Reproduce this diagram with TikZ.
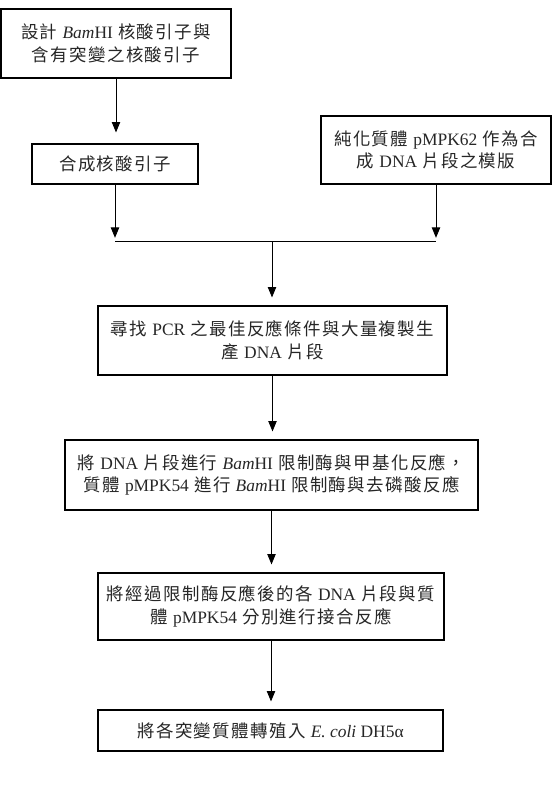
\documentclass[tikz,border=0pt]{standalone}
\usepackage{fontspec}
\setmainfont{Noto Sans CJK TC}
\newfontfamily\lat{Liberation Serif}
\usetikzlibrary{arrows.meta}
% a little room between the ideographs
\newcount\cjkchar
\cjkchar="4E00
\loop
  \XeTeXcharclass\cjkchar=1
  \advance\cjkchar by 1
\ifnum\cjkchar<"A000 \repeat
\XeTeXcharclass"FF0C=1
\XeTeXinterchartokenstate=1
\XeTeXinterchartoks 1 1 = {\hskip 1.0pt\relax}
\newcommand\gap{\hskip 0.3em\relax}

\begin{document}
\begin{tikzpicture}[x=0.025cm, y=-0.025cm,
  >={Triangle[length=2.6mm, width=2.1mm]},
  passo/.style={draw, line width=0.8pt, align=center, inner sep=0pt,
    font=\fontsize{12.4}{16}\selectfont, text=black!85},
  seta/.style={->, line width=0.6pt, shorten >=0.2cm}]
  \useasboundingbox (0,0) rectangle (559,795);

  % primers e molde
  \node[passo, minimum width=5.75cm, minimum height=1.725cm] (b1) at (116,43.5)
    {設計\gap{\lat\textit{Bam}HI}\gap 核酸引子與\\含有突變之核酸引子};
  \node[passo, minimum width=4.15cm, minimum height=1.0cm] (b3) at (115,164)
    {合成核酸引子};
  \node[passo, minimum width=5.75cm, minimum height=1.7cm] (b2) at (436,150)
    {純化質體\gap{\lat pMPK62}\gap 作為合\\成\gap{\lat DNA}\gap 片段之模版};

  % etapas principais
  \node[passo, minimum width=8.725cm, minimum height=1.725cm] (b4) at (272.5,340.5)
    {尋找\gap{\lat PCR}\gap 之最佳反應條件與大量複製生\\產\gap{\lat DNA}\gap 片段};
  \node[passo, minimum width=10.325cm, minimum height=1.75cm] (b5) at (271.5,475)
    {將\gap{\lat DNA}\gap 片段進行\gap{\lat\textit{Bam}HI}\gap 限制酶與甲基化反應，\\質體\gap{\lat pMPK54}\gap 進行\gap{\lat\textit{Bam}HI}\gap 限制酶與去磷酸反應};
  \node[passo, minimum width=8.65cm, minimum height=1.675cm] (b6) at (271,606.5)
    {將經過限制酶反應後的各\gap{\lat DNA}\gap 片段與質\\體\gap{\lat pMPK54}\gap 分別進行接合反應};
  \node[passo, minimum width=8.625cm, minimum height=1.025cm] (b7) at (270.5,730.5)
    {將各突變質體轉殖入\gap{\lat\textit{E. coli} DH5α}};

  % ligacoes
  \coordinate (m) at (272,241);
  \draw[seta, shorten >=0.275cm] (b1.south) -- (b1.south |- b3.north);
  \draw[seta, shorten >=0.08cm] (b3.south) -- (b3.south |- m);
  \draw[seta, shorten >=0.08cm] (b2.south) -- (b2.south |- m);
  \draw[line width=0.6pt] (b3.south |- m) -- (b2.south |- m);
  \draw[seta] (m) -- (m |- b4.north);
  \draw[seta] (b4.south) -- (b4.south |- b5.north);
  \draw[seta] (b5.south) -- (b5.south |- b6.north);
  \draw[seta] (b6.south) -- (b6.south |- b7.north);
\end{tikzpicture}
\end{document}
